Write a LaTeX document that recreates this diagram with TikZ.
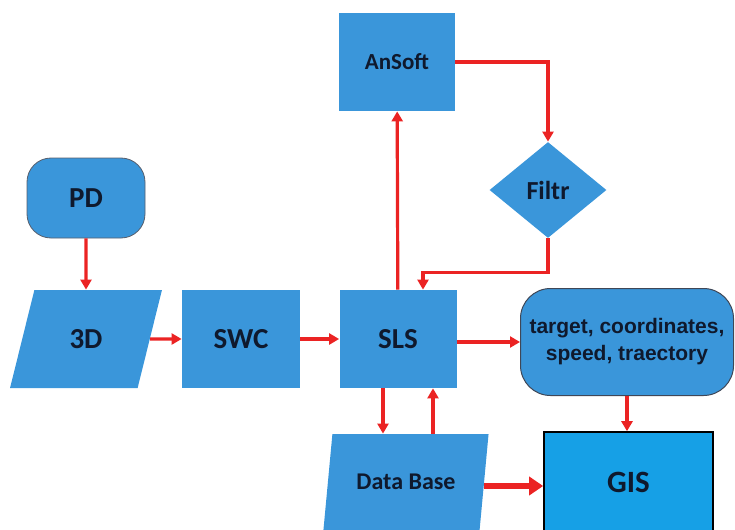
\documentclass[tikz,border=0pt]{standalone}
\usepackage{fontspec}
\setmainfont{Carlito}
\newfontfamily\arialfont{Liberation Sans}
\usetikzlibrary{shapes.geometric, arrows.meta}
\definecolor{boxblue}{RGB}{58,150,218}
\definecolor{gisblue}{RGB}{22,160,230}
\definecolor{linkred}{RGB}{235,35,35}
\definecolor{inkdark}{RGB}{15,25,45}

\begin{document}
\begin{tikzpicture}[
    x = 0.5pt,
    y = -0.5pt,
    block/.style = {fill=boxblue, text=inkdark, inner sep=0pt,
      font=\bfseries\fontsize{14.5}{16}\selectfont},
    slanted/.style = {block, trapezium, trapezium stretches=true},
    link/.style = {-{Triangle[length=5pt, width=5.5pt]}, linkred, line width=1.6pt},
    ]
    \useasboundingbox (0, 0) rectangle (735, 530);
    % left column
    \node[block, rectangle, rounded corners=12pt, draw=inkdark!70, line width=0.4pt,
      minimum width=59pt, minimum height=40pt] (pd) at (86, 198) {PD};
    \node[slanted, trapezium left angle=68, trapezium right angle=112,
      minimum width=76pt, minimum height=49pt] (3d) at (86, 339) {3D};
    % middle row
    \node[block, minimum width=59pt, minimum height=49pt] (swc) at (241, 339) {SWC};
    \node[block, minimum width=58.5pt, minimum height=49pt] (sls) at (398, 339) {SLS};
    \node[block, minimum width=58pt, minimum height=49pt,
      font=\bfseries\fontsize{11.5}{13}\selectfont] (ansoft) at (397, 62) {AnSoft};
    \node[block, diamond, minimum width=58.5pt, minimum height=48pt,
      font=\bfseries\fontsize{13}{15}\selectfont] (filtr) at (548, 190) {Filtr};
    % outputs
    \node[block, rectangle, rounded corners=15pt, draw=inkdark!80, line width=0.5pt,
      minimum width=106.5pt, minimum height=53.5pt, align=center,
      font=\arialfont\bfseries\fontsize{10.5}{13.5}\selectfont]
      (target) at (627, 342) {target, coordinates,\\speed, traectory};
    \node[slanted, trapezium left angle=69, trapezium right angle=111,
      minimum width=83pt, minimum height=48pt,
      font=\bfseries\fontsize{12}{14}\selectfont] (db) at (406, 482) {Data Base};
    \node[block, fill=gisblue, draw=black, line width=0.8pt,
      minimum width=84.5pt, minimum height=50pt,
      font=\bfseries\fontsize{15.5}{17}\selectfont] (gis) at (628.5, 482) {GIS};
    % links
    \draw[link] (pd) -- (3d);
    \draw[link] (3d.east) -- (swc.west);
    \draw[link] (swc) -- (sls);
    \draw[link] (sls) -- (ansoft);
    \draw[link] (ansoft.east) -| (filtr.north);
    \draw[link] (filtr.south) -- ++(0, 34) -| ([xshift=12.5pt]sls.north);
    \draw[link] (sls.east |- target.west) -- (target.west);
    \draw[link] ([xshift=-7.5pt]sls.south) -- ([xshift=-7.5pt]sls.south |- db.north);
    \draw[link] ([xshift=17.5pt]sls.south |- db.north) -- ([xshift=17.5pt]sls.south);
    \draw[link] (target.south) -- (target.south |- gis.north);
    \draw[link, line width=3pt, -{Triangle[length=7pt, width=9pt]}]
    (db.east |- 0, 486) -- (gis.west |- 0, 486);
  \end{tikzpicture}
\end{document}
